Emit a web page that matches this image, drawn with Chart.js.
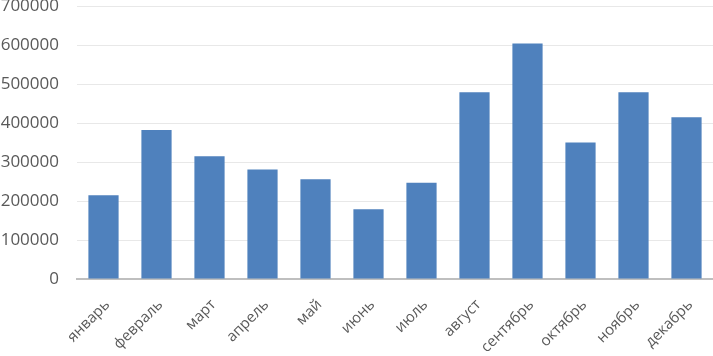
<!DOCTYPE html>
<html>
<head>
<meta charset="utf-8">
<script src="https://cdn.jsdelivr.net/npm/chart.js@4"></script>
<style>
  html, body { margin: 0; padding: 0; background: #fff; }
  #wrap { width: 713px; height: 356px; }
</style>
</head>
<body>
<div id="wrap"><canvas id="chart" width="713" height="356"></canvas></div>
<script>
// months and monthly values
const months = ['январь', 'февраль', 'март', 'апрель', 'май', 'июнь',
                'июль', 'август', 'сентябрь', 'октябрь', 'ноябрь', 'декабрь'];
const values = [215000, 382000, 315000, 281000, 256000, 179000,
                247000, 479000, 604000, 350000, 479000, 415000];
const yMax = 700000;
const yStep = 100000;

const labelColor = '#595959';

new Chart(document.getElementById('chart'), {
  type: 'bar',
  data: {
    labels: months,
    datasets: [{
      data: values,
      backgroundColor: '#4f81bd',
      borderWidth: 0,
      barPercentage: 0.57,
      categoryPercentage: 1
    }]
  },
  options: {
    responsive: false,
    animation: false,
    layout: { padding: { top: 6, right: 0, left: 0, bottom: 0 } },
    plugins: { legend: { display: false }, tooltip: { enabled: false } },
    scales: {
      x: {
        grid: { display: false },
        border: { color: '#bfbfbf', width: 2 },
        ticks: {
          color: labelColor,
          font: { family: 'Open Sans', size: 15 },
          minRotation: 45,
          maxRotation: 45,
          padding: 9,
          labelOffset: 4
        },
        afterFit: s => { s.height = 77; }
      },
      y: {
        min: 0,
        max: yMax,
        grid: { color: '#e8e8e8', lineWidth: 1, drawTicks: false },
        border: { display: false },
        ticks: {
          stepSize: yStep,
          color: labelColor,
          font: { family: 'Open Sans', size: 17 },
          padding: 18,
          callback: v => String(v)
        },
        // fixed axis width; drop the extra top/bottom room kept for the labels
        afterFit: s => { s.width = 77; s.paddingTop = 0; s.paddingBottom = 0; }
      }
    }
  }
});
</script>
</body>
</html>
